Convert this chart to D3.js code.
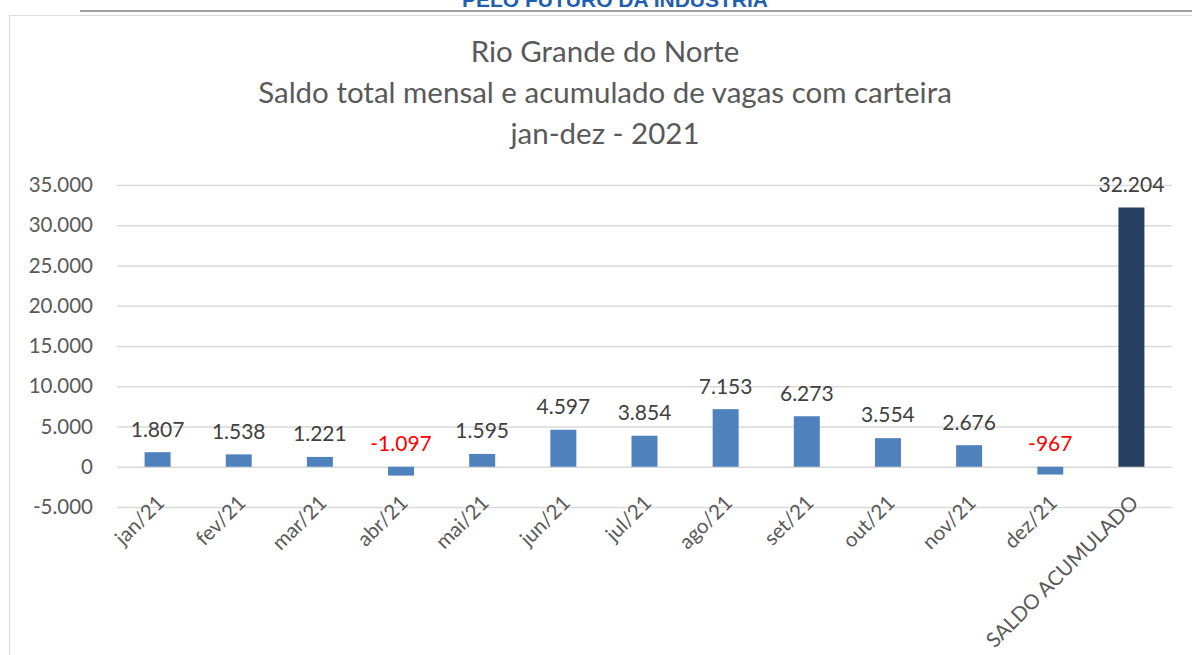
<!DOCTYPE html>
<html>
<head>
<meta charset="utf-8">
<script src="https://cdn.jsdelivr.net/npm/d3@7"></script>
<style>
  html, body { margin: 0; padding: 0; background: #fff; }
  svg { display: block; font-family: Lato, "Open Sans", sans-serif; }
</style>
</head>
<body>
<script>
// saldo de vagas com carteira - RN 2021
const categories = ['jan/21', 'fev/21', 'mar/21', 'abr/21', 'mai/21', 'jun/21', 'jul/21',
  'ago/21', 'set/21', 'out/21', 'nov/21', 'dez/21', 'SALDO ACUMULADO']
const saldo = [1807, 1538, 1221, -1097, 1595, 4597, 3854, 7153, 6273, 3554, 2676, -967, 32204]
const yTicks = [-5000, 0, 5000, 10000, 15000, 20000, 25000, 30000, 35000]
const titleLines = ['Rio Grande do Norte', 'Saldo total mensal e acumulado de vagas com carteira', 'jan-dez - 2021']

const W = 1192
const H = 655
// formato pt-BR com hífen simples no sinal
const fmt = (v) => d3.format(',.0f')(v).replace(/,/g, '.').replace('\u2212', '-')

const svg = d3.select('body').append('svg')
  .attr('width', W)
  .attr('height', H)

// cabeçalho cortado do documento
svg.append('text')
  .attr('x', 615).attr('y', 7)
  .attr('text-anchor', 'middle')
  .attr('font-family', 'Liberation Sans, Arial, sans-serif')
  .attr('font-weight', 'bold')
  .attr('font-size', 21)
  .attr('fill', '#1f5fb0')
  .text('PELO FUTURO DA INDÚSTRIA')
svg.append('line')
  .attr('x1', 80).attr('x2', W).attr('y1', 11).attr('y2', 11)
  .attr('stroke', '#a0a0a0').attr('stroke-width', 2)

// moldura do gráfico
svg.append('rect')
  .attr('x', 9.5).attr('y', 15.5)
  .attr('width', W).attr('height', H)
  .attr('fill', 'none').attr('stroke', '#d9d9d9')

const x = d3.scaleBand()
  .domain(categories)
  .range([117, 1172])
  .paddingInner(0.68)
  .paddingOuter(0.34)
const y = d3.scaleLinear()
  .domain([-5000, 35000])
  .range([507, 185])

// título
svg.append('g').selectAll('text')
  .data(titleLines)
  .enter()
  .append('text')
  .attr('x', 605)
  .attr('y', (d, i) => 62 + i * 41)
  .attr('text-anchor', 'middle')
  .attr('font-size', 29.5)
  .attr('fill', '#595959')
  .text((d) => d)

// eixo y com grade
const yAxis = svg.append('g')
  .attr('transform', 'translate(117,0)')
  .call(d3.axisLeft(y).tickValues(yTicks).tickSize(-(1172 - 117)).tickPadding(24).tickFormat(fmt))
yAxis.select('.domain').remove()
yAxis.selectAll('.tick line').attr('stroke', '#d9d9d9').attr('stroke-width', 1.5)
yAxis.selectAll('.tick text')
  .attr('font-size', 20.5)
  .attr('font-family', 'Lato, sans-serif')
  .attr('fill', '#595959')

// barras
svg.append('g').selectAll('rect')
  .data(categories)
  .enter()
  .append('rect')
  .attr('x', (d) => x(d))
  .attr('width', x.bandwidth())
  .attr('y', (d, i) => y(Math.max(0, saldo[i])))
  .attr('height', (d, i) => Math.abs(y(saldo[i]) - y(0)))
  .attr('fill', (d, i) => i === categories.length - 1 ? '#243f60' : '#4f81bd')

// rótulos de valores
svg.append('g').selectAll('text')
  .data(categories)
  .enter()
  .append('text')
  .attr('x', (d) => x(d) + x.bandwidth() / 2)
  .attr('y', (d, i) => y(Math.max(0, saldo[i])) - 23)
  .attr('dy', '0.35em')
  .attr('text-anchor', 'middle')
  .attr('font-size', 21)
  .attr('fill', (d, i) => saldo[i] < 0 ? '#ff0000' : '#404040')
  .text((d, i) => fmt(saldo[i]))

// rótulos do eixo x
svg.append('g').selectAll('text')
  .data(categories)
  .enter()
  .append('text')
  .attr('transform', (d) => 'translate(' + (x(d) + x.bandwidth() / 2 + 3) + ',' + 499 + ') rotate(-45)')
  .attr('text-anchor', 'end')
  .attr('dy', '0.35em')
  .attr('font-size', 20.5)
  .attr('fill', '#595959')
  .text((d) => d)
</script>
</body>
</html>
